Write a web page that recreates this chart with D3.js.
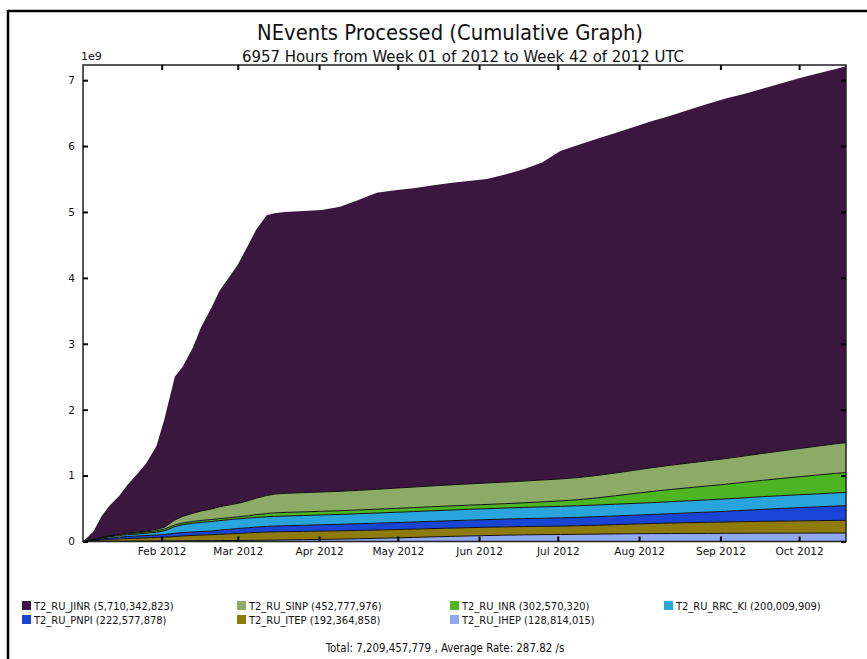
<!DOCTYPE html>
<html>
<head>
<meta charset="utf-8">
<script src="https://cdn.jsdelivr.net/npm/d3@7"></script>
<style>
  body { margin: 0; background: #fff; }
  svg { display: block; }
  .cond { font-family: "DejaVu Sans Condensed", "DejaVu Sans", sans-serif; font-stretch: condensed; }
  .reg { font-family: "DejaVu Sans", sans-serif; }
</style>
</head>
<body>
<svg id="chart" width="867" height="659"></svg>
<script>
// Sample dates (UTC) of the cumulative counts
const dates = [
  "2012-01-02", "2012-01-06", "2012-01-09", "2012-01-12", "2012-01-16", "2012-01-19",
  "2012-01-23", "2012-01-26", "2012-01-30", "2012-02-02", "2012-02-06", "2012-02-09",
  "2012-02-13", "2012-02-16", "2012-02-20", "2012-02-23", "2012-02-27", "2012-03-01",
  "2012-03-05", "2012-03-08", "2012-03-12", "2012-03-15", "2012-03-19", "2012-03-26",
  "2012-04-02", "2012-04-09", "2012-04-16", "2012-04-23", "2012-04-30", "2012-05-07",
  "2012-05-14", "2012-05-21", "2012-05-28", "2012-06-04", "2012-06-11", "2012-06-18",
  "2012-06-25", "2012-07-02", "2012-07-09", "2012-07-16", "2012-07-23", "2012-07-30",
  "2012-08-06", "2012-08-13", "2012-08-20", "2012-08-27", "2012-09-03", "2012-09-10",
  "2012-09-17", "2012-09-24", "2012-10-01", "2012-10-08", "2012-10-15", "2012-10-18T21:00"
];

// Cumulative events per site, in millions
const JINR = [0, 116, 316, 455, 587, 730, 896, 1020, 1266, 1634, 2174, 2269, 2520, 2788, 3057, 3274,
  3473, 3622, 3882, 4071, 4253, 4261, 4269, 4274, 4278, 4319, 4404, 4498, 4521, 4534, 4557, 4581,
  4596, 4612, 4668, 4733, 4817, 4976, 5049, 5108, 5161, 5210, 5260, 5303, 5359, 5416, 5462, 5494,
  5534, 5576.5, 5620, 5653.5, 5687.7, 5710.342823];
const SINP = [0, 2, 4, 5, 7, 10, 13, 15, 20, 30, 75, 100, 125, 142, 160, 180, 195, 204, 228, 252,
  272, 285, 290, 292, 293, 294, 297, 302, 307, 312, 316, 320, 323, 326, 328, 330, 332, 334, 336, 340,
  345, 352, 360, 368, 375, 382, 390, 398, 408, 418, 428, 438, 448, 452.777976];
const INR = [0, 4, 8, 10, 14, 16, 17, 20, 24, 25, 26, 26, 28, 29, 30, 30, 30, 31, 35, 42, 50, 53, 55,
  55, 56, 56, 57, 58, 59, 60, 61, 62, 63, 64, 66, 70, 76, 82, 92, 108, 128, 150, 170, 185, 198, 210,
  222, 235, 248, 260, 272, 285, 297, 302.57032];
const RRC_KI = [0, 8, 14, 20, 26, 28, 30, 35, 43, 55, 100, 118, 133, 140, 144, 145, 145, 146, 146, 146,
  146, 147, 147, 148, 149, 150, 152, 154, 156, 158, 160, 162, 164, 166, 168, 170, 172, 174, 176, 177,
  178, 179, 180, 182, 184, 186, 188, 190, 192, 194, 196, 198, 199.5, 200.009909];
const PNPI = [0, 8, 16, 20, 26, 31, 34, 35, 36, 40, 50, 52, 52, 53, 56, 62, 70, 75, 78, 82, 86, 88, 90,
  93, 96, 99, 102, 104, 106, 108, 110, 112, 114, 116, 118, 120, 123, 126, 128, 130, 132, 134, 137, 142,
  148, 155, 162, 172, 182, 192, 201, 209, 218, 222.577878];
const ITEP = [0, 11, 20, 27, 36, 40, 44, 48, 53, 57, 65, 74, 80, 85, 90, 95, 102, 107, 114, 119, 123,
  124, 125, 125, 126, 126, 126, 126, 126, 126, 126, 126, 126, 126, 126, 126, 126, 127, 130, 135, 141,
  147, 153, 159, 164, 168, 172, 176, 180, 183, 186, 189, 191.5, 192.364858];
const IHEP = [0, 1, 2, 3, 4, 5, 6, 7, 8, 9, 10, 11, 12, 13, 13, 14, 15, 15, 17, 18, 20, 22, 24, 28, 32,
  36, 42, 48, 55, 62, 70, 77, 84, 90, 96, 101, 104, 106, 109, 112, 115, 118, 120, 121, 122, 123, 124,
  125, 126, 126.5, 127, 127.5, 128.3, 128.814015];

const siteNames = ["T2_RU_JINR", "T2_RU_SINP", "T2_RU_INR", "T2_RU_RRC_KI", "T2_RU_PNPI", "T2_RU_ITEP", "T2_RU_IHEP"];
const siteValues = [JINR, SINP, INR, RRC_KI, PNPI, ITEP, IHEP];
const siteColors = ["#3b1740", "#8cab66", "#4cb521", "#2aa4dc", "#1a45d4", "#8f7a0c", "#8fa8ef"];

const yTickValues = [0, 1, 2, 3, 4, 5, 6, 7];     // in units of 1e9
const yExponentLabel = "1e9";
const titleText = "NEvents Processed (Cumulative Graph)";
const subtitleText = "6957 Hours from Week 01 of 2012 to Week 42 of 2012 UTC";
const averageRateText = "287.82 /s";
const periodStart = "2012-01-02";
const periodEnd = "2012-10-18T21:00";

const UNIT = 1e6;

// ---- table for the stack ----
const parseDate = s => new Date(s + (s.length === 10 ? "T00:00:00Z" : ":00Z"));
const rows = dates.map((d, i) => {
  const r = { date: parseDate(d) };
  siteNames.forEach((n, k) => { r[n] = siteValues[k][i] * UNIT; });
  return r;
});
const stackOrder = siteNames.slice().reverse();   // IHEP at the bottom, JINR on top
const layers = d3.stack().keys(stackOrder)(rows);

const svg = d3.select("#chart");
const W = 867, H = 659;
const L = 83, R = 846, T = 65, B = 541.5;

const x = d3.scaleUtc().domain([parseDate(periodStart), parseDate(periodEnd)]).range([L, R]);
const y = d3.scaleLinear().domain([0, 7.23e9]).range([B, T]);

// outer frame (top and left edges)
svg.append("line").attr("x1", 8).attr("x2", W).attr("y1", 11).attr("y2", 11)
  .attr("stroke", "#000").attr("stroke-width", 2.5);
svg.append("line").attr("x1", 8).attr("x2", 8).attr("y1", 10).attr("y2", H)
  .attr("stroke", "#000").attr("stroke-width", 2.5);

// titles
svg.append("text").attr("class", "cond").attr("x", 450).attr("y", 40)
  .attr("text-anchor", "middle").attr("font-size", 21.8).attr("fill", "#111").text(titleText);
svg.append("text").attr("class", "cond").attr("x", 463).attr("y", 62)
  .attr("text-anchor", "middle").attr("font-size", 16.6).attr("fill", "#111").text(subtitleText);

// stacked areas
const colorOf = n => siteColors[siteNames.indexOf(n)];
const area = d3.area()
  .x(d => x(d.data.date))
  .y0(d => y(d[0]))
  .y1(d => y(d[1]));
const g = svg.append("g");
g.selectAll("path.layer").data(layers).join("path")
  .attr("class", "layer")
  .attr("fill", d => colorOf(d.key))
  .attr("d", area);

// dark boundary along the top of each lower layer
const edge = d3.line().x(d => x(d.data.date)).y(d => y(d[1]));
g.selectAll("path.edge").data(layers.slice(0, -1)).join("path")
  .attr("class", "edge")
  .attr("fill", "none").attr("stroke", "#111").attr("stroke-width", 1)
  .attr("d", edge);

// plot frame
svg.append("rect").attr("x", L).attr("y", T).attr("width", R - L).attr("height", B - T)
  .attr("fill", "none").attr("stroke", "#222").attr("stroke-width", 1.5);

// axes with inward ticks
const monthTicks = d3.utcMonth.every(1);
const styleAxis = sel => {
  sel.select(".domain").remove();
  sel.selectAll(".tick line").attr("stroke", "#000").attr("stroke-width", 2);
};
svg.append("g").attr("transform", `translate(0,${B})`)
  .call(d3.axisBottom(x).ticks(monthTicks).tickSize(-5).tickPadding(6).tickFormat(d3.utcFormat("%b %Y")))
  .call(styleAxis)
  .call(s => s.selectAll("text").attr("class", "reg").attr("font-size", 10.5).attr("fill", "#111"));
svg.append("g").attr("transform", `translate(0,${T})`)
  .call(d3.axisTop(x).ticks(monthTicks).tickSize(-5).tickFormat(""))
  .call(styleAxis);
svg.append("g").attr("transform", `translate(${L},0)`)
  .call(d3.axisLeft(y).tickValues(yTickValues.map(v => v * 1e9)).tickSize(-5).tickPadding(8)
    .tickFormat(v => d3.format("d")(v / 1e9)))
  .call(styleAxis)
  .call(s => s.selectAll("text").attr("class", "reg").attr("font-size", 10.5).attr("fill", "#111"));
svg.append("g").attr("transform", `translate(${R},0)`)
  .call(d3.axisRight(y).tickValues(yTickValues.map(v => v * 1e9)).tickSize(-5).tickFormat(""))
  .call(styleAxis);

svg.append("text").attr("class", "reg").attr("x", 81).attr("y", 60)
  .attr("font-size", 11).attr("fill", "#111").text(yExponentLabel);

// legend
const fmt = d3.format(",");
const legendCols = [22, 237, 450, 664];
const legendRows = [606, 620];
siteNames.forEach((n, k) => {
  const cx = legendCols[k % 4], cy = legendRows[Math.floor(k / 4)];
  const last = Math.round(siteValues[k][siteValues[k].length - 1] * UNIT);
  svg.append("rect").attr("x", cx).attr("y", cy - 5).attr("width", 9).attr("height", 9)
    .attr("fill", siteColors[k]);
  svg.append("text").attr("class", "cond").attr("x", cx + 12).attr("y", cy + 4)
    .attr("font-size", 11).attr("fill", "#111").text(`${n} (${fmt(last)})`);
});

const total = d3.sum(siteValues, v => Math.round(v[v.length - 1] * UNIT));
svg.append("text").attr("class", "cond").attr("x", 445).attr("y", 652)
  .attr("text-anchor", "middle").attr("font-size", 11.4).attr("fill", "#111")
  .text(`Total: ${fmt(total)} , Average Rate: ${averageRateText}`);
</script>
</body>
</html>
